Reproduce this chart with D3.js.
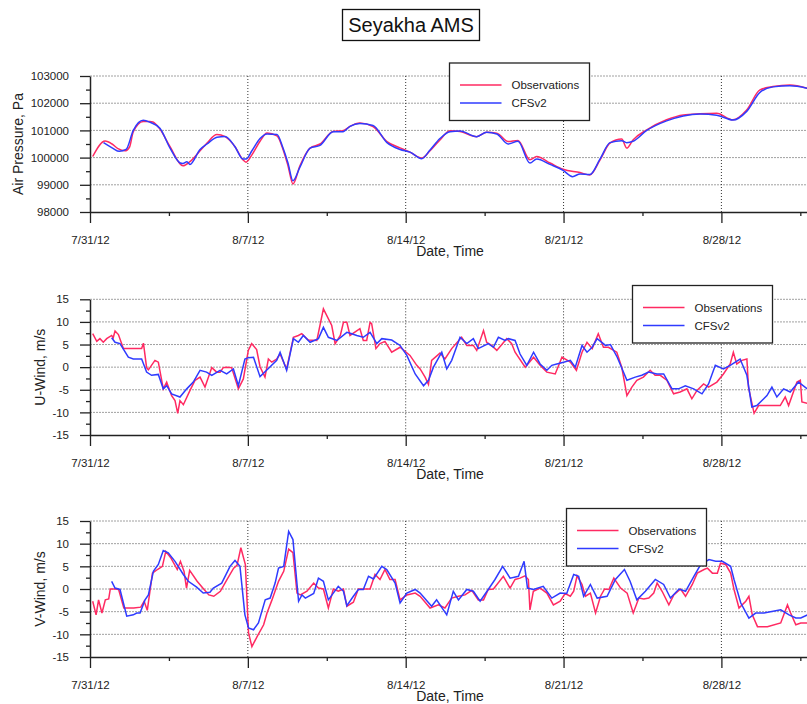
<!DOCTYPE html>
<html>
<head>
<meta charset="utf-8">
<script src="https://cdn.jsdelivr.net/npm/d3@7"></script>
<style>
  body { margin: 0; background: #fff; }
  svg { font-family: Arial, "Liberation Sans", sans-serif; }
</style>
</head>
<body>
<svg id="chart" width="807" height="704"></svg>
<script>
// values, as [day since 7/31/12, value]
var pressureObs = [[0.12,100040],[0.67,100610],[0.98,100500],[1.24,100330],[1.55,100250],[1.75,100380],[1.92,100950],[2.36,101330],[2.66,101330],[2.79,101310],[3.1,101050],[3.55,100400],[4.12,99700],[4.43,99850],[4.88,100250],[5.19,100540],[5.63,100850],[5.99,100770],[6.43,100400],[6.78,99920],[6.92,99830],[7.18,100100],[7.54,100600],[7.85,100900],[8.29,100800],[8.56,100300],[8.78,99700],[9.0,99030],[9.31,99700],[9.76,100350],[10.2,100500],[10.78,100960],[11.22,100990],[11.53,101150],[11.97,101270],[12.55,101140],[13.17,100590],[13.75,100360],[14.19,100200],[14.71,99980],[15.08,100250],[15.52,100650],[15.96,100990],[16.41,100960],[17.15,100770],[17.59,100930],[18.04,100900],[18.54,100590],[18.98,100630],[19.51,99920],[19.81,100040],[20.4,99800],[20.98,99570],[21.73,99450],[22.17,99360],[22.62,99920],[23.06,100530],[23.58,100680],[23.8,100350],[24.08,100650],[24.69,101020],[25.57,101390],[26.31,101570],[27.05,101610],[27.79,101630],[28.51,101390],[29.12,101750],[29.71,102490],[30.29,102610],[31.04,102670],[31.8,102550]];
var pressureCfs = [[0.6,100550],[1.0,100350],[1.3,100230],[1.6,100300],[1.92,101000],[2.36,101370],[2.66,101300],[3.1,101080],[3.55,100350],[4.0,99800],[4.12,99780],[4.3,99850],[4.43,99750],[4.88,100300],[5.19,100500],[5.63,100750],[5.99,100780],[6.43,100400],[6.78,99950],[6.92,99950],[7.18,100250],[7.54,100700],[7.85,100870],[8.29,100850],[8.56,100350],[8.78,99800],[9.0,99150],[9.31,99650],[9.76,100350],[10.2,100450],[10.78,100950],[11.22,100950],[11.53,101150],[11.97,101250],[12.55,101180],[13.17,100550],[13.75,100300],[14.19,100200],[14.71,99960],[15.08,100280],[15.52,100700],[15.96,100950],[16.41,100980],[17.15,100770],[17.59,100930],[18.04,100870],[18.54,100500],[18.98,100600],[19.51,99800],[19.81,99950],[20.4,99750],[20.98,99530],[21.4,99300],[21.73,99400],[22.17,99380],[22.62,99950],[23.06,100550],[23.58,100620],[23.8,100550],[24.08,100600],[24.69,101000],[25.57,101350],[26.31,101530],[27.05,101600],[27.79,101560],[28.51,101380],[29.12,101700],[29.71,102400],[30.29,102600],[31.04,102640],[31.8,102550]];

var uWindObs = [[0.12,7.4],[0.3,5.7],[0.44,6.3],[0.59,5.5],[0.74,6.3],[0.96,7.0],[1.03,6.5],[1.11,8.0],[1.26,7.2],[1.48,4.1],[1.92,4.1],[2.29,4.1],[2.37,5.3],[2.51,-0.1],[2.59,-0.6],[2.88,1.5],[3.03,1.1],[3.25,-4.8],[3.4,-3.3],[3.47,-4.3],[3.62,-6.3],[3.77,-7.4],[3.89,-10.2],[3.99,-7.4],[4.14,-8.3],[4.43,-5.2],[4.66,-2.9],[4.88,-2.2],[5.1,-4.4],[5.4,-0.1],[5.62,-1.1],[5.77,-1.1],[5.91,-0.1],[6.06,0.0],[6.28,-0.1],[6.58,-4.8],[6.8,-2.6],[7.02,3.7],[7.17,5.2],[7.39,3.9],[7.54,0.1],[7.76,-2.2],[7.91,1.8],[8.06,1.1],[8.28,1.8],[8.43,2.9],[8.72,-0.4],[9.02,6.6],[9.24,7.0],[9.39,7.4],[9.68,6.0],[10.06,5.9],[10.35,12.9],[10.72,9.2],[10.87,5.2],[11.1,7.0],[11.24,9.9],[11.39,9.9],[11.53,7.0],[11.97,8.5],[12.12,5.9],[12.27,5.9],[12.42,9.9],[12.49,9.6],[12.68,4.1],[12.86,5.2],[13.08,5.7],[13.38,3.3],[13.75,4.4],[14.19,2.6],[14.49,0.4],[14.64,-0.4],[14.86,-2.2],[15.01,-3.8],[15.15,1.5],[15.52,3.1],[15.74,1.8],[16.04,4.1],[16.48,6.6],[16.71,4.8],[17.0,4.8],[17.15,3.7],[17.45,8.1],[17.59,5.5],[17.81,4.8],[18.04,3.7],[18.48,6.3],[18.7,5.2],[18.85,3.3],[19.3,0.0],[19.67,2.2],[19.96,0.4],[20.26,-1.1],[20.63,-1.5],[20.93,2.2],[21.3,1.1],[21.57,-0.7],[21.82,3.3],[22.04,5.5],[22.27,4.1],[22.54,7.4],[22.77,4.4],[22.99,4.4],[23.36,3.3],[23.58,0.0],[23.81,-6.3],[24.03,-4.4],[24.25,-2.9],[24.54,-2.2],[24.84,-0.7],[25.06,-1.8],[25.29,-1.8],[25.58,-2.9],[25.88,-5.9],[26.17,-5.5],[26.47,-4.8],[26.69,-7.0],[26.91,-5.2],[27.21,-3.7],[27.43,-4.4],[27.8,-3.3],[28.09,-1.5],[28.39,0.7],[28.53,3.3],[28.68,0.7],[28.91,1.5],[29.13,1.8],[29.2,-4.4],[29.45,-10.2],[29.65,-8.5],[30.02,-8.5],[30.61,-8.5],[30.83,-6.6],[30.98,-8.5],[31.35,-3.3],[31.5,-2.9],[31.57,-7.7],[31.81,-8.0]];
var uWindCfs = [[0.96,6.5],[1.11,5.5],[1.33,5.2],[1.7,2.2],[1.92,1.8],[2.29,1.8],[2.51,-1.1],[2.73,-1.8],[3.03,-1.6],[3.25,-4.8],[3.4,-4.1],[3.62,-5.9],[3.99,-6.6],[4.29,-4.8],[4.58,-3.3],[4.88,-0.7],[5.17,-1.1],[5.4,-1.8],[5.77,-0.7],[6.06,-1.5],[6.36,-0.4],[6.58,-4.1],[6.87,1.8],[7.02,2.1],[7.25,2.2],[7.54,-2.1],[7.83,-0.7],[8.28,1.5],[8.43,3.3],[8.72,-0.7],[9.02,6.3],[9.24,5.5],[9.46,7.0],[9.76,5.5],[10.13,6.3],[10.35,8.8],[10.57,6.6],[10.95,5.9],[11.39,7.7],[11.61,7.4],[11.83,7.0],[12.12,6.6],[12.42,7.7],[12.72,5.2],[12.94,6.3],[13.38,6.0],[13.75,4.8],[14.05,2.6],[14.42,-1.5],[14.79,-4.1],[15.01,-2.9],[15.23,0.0],[15.6,3.3],[15.82,-0.4],[16.04,1.5],[16.41,6.6],[16.71,5.2],[17.0,6.3],[17.22,4.1],[17.66,5.2],[17.89,4.4],[18.11,6.6],[18.41,5.9],[18.55,6.3],[18.85,5.9],[19.07,2.9],[19.37,0.4],[19.67,3.3],[19.96,0.7],[20.26,-0.7],[20.48,0.4],[20.7,0.7],[21.0,1.1],[21.3,1.5],[21.52,0.0],[21.82,4.8],[22.04,3.3],[22.27,4.4],[22.49,6.3],[22.86,4.8],[23.08,5.0],[23.38,2.2],[23.81,-2.9],[24.18,-2.2],[24.47,-1.8],[24.77,-1.1],[25.14,-1.5],[25.44,-1.5],[25.81,-4.8],[26.1,-4.8],[26.4,-4.1],[26.77,-4.8],[27.14,-5.9],[27.43,-3.7],[27.73,0.4],[28.09,-0.4],[28.39,0.4],[28.83,1.8],[29.13,-1.8],[29.35,-8.8],[29.57,-8.5],[30.02,-6.3],[30.24,-4.4],[30.46,-6.6],[30.76,-4.8],[31.05,-5.5],[31.42,-3.3],[31.81,-4.8]];

var vWindObs = [[0.12,-2.7],[0.27,-5.7],[0.38,-2.4],[0.53,-5.3],[0.68,-2.4],[0.83,-2.2],[0.9,0.0],[1.13,0.0],[1.27,-0.1],[1.5,-4.2],[1.94,-4.2],[2.25,-4.0],[2.4,-2.7],[2.54,-4.7],[2.77,3.5],[2.99,4.3],[3.21,5.0],[3.36,8.3],[3.58,6.9],[3.87,4.3],[4.01,6.1],[4.17,3.9],[4.28,0.2],[4.42,4.1],[4.75,1.7],[5.04,0.0],[5.27,-1.3],[5.49,-1.6],[5.78,-0.5],[6.08,2.1],[6.37,4.6],[6.52,5.2],[6.69,9.1],[6.89,5.4],[7.03,-9.7],[7.18,-12.7],[7.41,-10.5],[7.7,-7.9],[7.85,-5.3],[8.07,-2.4],[8.36,1.7],[8.59,3.9],[8.81,8.8],[9.0,8.0],[9.18,-0.9],[9.33,-1.3],[9.62,-0.5],[9.92,1.3],[10.13,0.2],[10.35,0.0],[10.57,-4.2],[10.79,0.0],[11.01,-0.5],[11.24,0.0],[11.39,-3.8],[11.68,-2.9],[11.9,0.0],[12.42,0.0],[12.64,3.2],[12.86,2.1],[13.08,4.3],[13.3,2.1],[13.53,2.1],[13.75,-2.4],[14.05,-1.3],[14.42,-0.9],[14.64,-1.6],[15.08,-4.2],[15.45,-3.5],[15.74,-4.2],[16.04,-2.0],[16.34,-1.6],[16.63,-1.3],[16.93,-0.3],[17.22,-2.4],[17.45,-2.4],[17.66,-0.1],[17.89,0.0],[18.33,2.8],[18.63,0.2],[18.85,2.1],[19.07,2.4],[19.29,2.9],[19.44,2.1],[19.51,-4.6],[19.66,-0.5],[19.96,0.2],[20.26,-0.9],[20.55,-3.5],[20.85,-2.7],[21.07,-1.0],[21.3,-1.6],[21.45,-0.5],[21.6,2.9],[21.82,1.0],[21.97,-1.6],[22.19,-0.9],[22.42,-5.3],[22.64,-1.6],[22.82,0.0],[23.01,-0.1],[23.23,2.4],[23.53,0.2],[23.82,-0.9],[24.09,-5.3],[24.34,-2.0],[24.56,-2.2],[24.78,-2.0],[25.0,-0.9],[25.15,1.3],[25.37,-0.5],[25.67,-3.5],[25.89,-1.3],[26.19,0.0],[26.41,-1.6],[26.71,1.0],[26.93,3.5],[27.23,4.3],[27.38,4.6],[27.6,3.5],[27.82,3.5],[27.96,5.7],[28.19,5.4],[28.41,3.5],[28.56,-0.1],[28.78,-4.2],[29.08,-2.7],[29.22,-1.6],[29.37,-5.7],[29.6,-8.3],[30.04,-8.3],[30.63,-7.5],[30.93,-3.5],[31.07,-5.3],[31.3,-7.9],[31.52,-7.5],[31.83,-7.5]];
var vWindCfs = [[0.96,1.7],[1.11,0.2],[1.33,-0.1],[1.63,-6.0],[1.92,-5.7],[2.07,-5.3],[2.22,-5.3],[2.44,-2.4],[2.59,-1.3],[2.81,3.9],[3.03,5.4],[3.25,8.5],[3.47,8.0],[3.77,6.1],[4.14,3.2],[4.36,1.7],[4.73,0.4],[5.02,-0.9],[5.32,-0.7],[5.47,0.2],[5.84,1.3],[6.21,5.0],[6.43,6.3],[6.65,5.0],[6.87,-5.7],[7.03,-8.6],[7.25,-9.0],[7.47,-7.5],[7.77,-2.4],[7.99,-2.0],[8.21,1.3],[8.36,4.6],[8.59,5.0],[8.81,12.7],[9.0,10.9],[9.25,-2.7],[9.4,-1.3],[9.55,-2.0],[9.92,-1.0],[10.13,2.4],[10.35,1.7],[10.57,-2.4],[10.79,-0.9],[11.01,0.6],[11.24,-0.5],[11.39,-3.7],[11.68,-1.6],[11.9,-0.1],[12.12,-0.1],[12.35,2.8],[12.57,2.2],[12.94,5.0],[13.16,4.3],[13.53,1.3],[13.75,-3.1],[14.05,-0.9],[14.42,-0.1],[14.64,-0.9],[15.15,-3.8],[15.37,-2.4],[15.82,-5.7],[16.11,-0.5],[16.34,-2.4],[16.71,-0.1],[17.0,-0.5],[17.3,-2.7],[17.66,-0.1],[17.96,2.1],[18.3,5.0],[18.63,2.4],[19.0,2.8],[19.25,6.1],[19.4,0.2],[19.66,-0.1],[20.1,0.6],[20.48,-2.0],[20.85,-0.9],[21.14,-1.0],[21.45,3.2],[21.67,2.8],[21.89,-1.6],[22.19,1.0],[22.49,-2.0],[22.93,-1.6],[23.3,2.1],[23.7,4.3],[23.95,1.7],[24.25,-2.4],[24.63,-0.5],[25.07,2.1],[25.44,1.0],[25.74,-2.0],[26.12,0.0],[26.41,-0.5],[26.78,2.8],[27.08,5.4],[27.45,6.5],[27.75,6.1],[28.04,6.1],[28.41,5.0],[28.56,2.1],[28.86,-3.1],[29.22,-6.4],[29.52,-5.3],[29.89,-5.3],[30.63,-4.6],[31.0,-5.7],[31.3,-6.4],[31.52,-6.4],[31.83,-5.7]];

var majorDays = [0, 7, 14, 21, 28];
var minorDays = [3.5, 10.5, 17.5, 24.5, 31.5];
var xTickLabels = ["7/31/12", "8/7/12", "8/14/12", "8/21/12", "8/28/12"];
var pressureTicks = [98000, 99000, 100000, 101000, 102000, 103000];
var windTicks = [-15, -10, -5, 0, 5, 10, 15];
var seriesNames = ["Observations", "CFSv2"];
var title = "Seyakha AMS";

var obsColor = "#ff2a62", cfsColor = "#2f3bff";
var left = 90, right = 807;
var DAY0 = Date.UTC(2012, 6, 31);
function toDate(d) { return new Date(DAY0 + d * 864e5); }

var svg = d3.select("#chart");

var x = d3.scaleUtc()
  .domain([toDate(0), toDate(32)])
  .range([left, left + 32 * 22.55]);

// title box
var tg = svg.append("g");
tg.append("rect").attr("x", 342.5).attr("y", 9.5).attr("width", 137).attr("height", 31)
  .attr("fill", "#fff").attr("stroke", "#111").attr("stroke-width", 1.3);
tg.append("text").attr("x", 411).attr("y", 32).attr("text-anchor", "middle")
  .attr("font-size", 20).attr("fill", "#111").text(title);

var panels = [
  {obs: pressureObs, cfs: pressureCfs, ticks: pressureTicks, minorStep: 500, curve: d3.curveMonotoneX,
   top: 76, bottom: 212, label: "Air Pressure, Pa", labelX: 18, legend: [449.5, 63]},
  {obs: uWindObs, cfs: uWindCfs, ticks: windTicks, minorStep: 2.5, curve: d3.curveLinear,
   top: 299.3, bottom: 435, label: "U-Wind, m/s", labelX: 40, legend: [632.5, 285.5]},
  {obs: vWindObs, cfs: vWindCfs, ticks: windTicks, minorStep: 2.5, curve: d3.curveLinear,
   top: 521, bottom: 657, label: "V-Wind, m/s", labelX: 40, legend: [566.5, 508.5]}
];

panels.forEach(function(p, idx) {
  var lo = p.ticks[0], hi = p.ticks[p.ticks.length - 1];
  var y = d3.scaleLinear().domain([lo, hi]).range([p.bottom, p.top]);
  var g = svg.append("g");

  // horizontal grid
  g.selectAll(".hgrid").data(p.ticks.slice(1)).enter().append("line")
    .attr("x1", left).attr("x2", right)
    .attr("y1", d => y(d)).attr("y2", d => y(d))
    .attr("stroke", "#a0a0a0").attr("stroke-width", 1).attr("stroke-dasharray", "2,1");
  // vertical dotted grid
  g.selectAll(".vgrid").data(majorDays.slice(1)).enter().append("line")
    .attr("x1", d => x(toDate(d))).attr("x2", d => x(toDate(d)))
    .attr("y1", p.top).attr("y2", p.bottom)
    .attr("stroke", "#333").attr("stroke-width", 1).attr("stroke-dasharray", "1,2");

  // data lines
  var clipId = "clip" + idx;
  svg.append("clipPath").attr("id", clipId).append("rect")
    .attr("x", left).attr("y", p.top - 5).attr("width", right - left).attr("height", p.bottom - p.top + 5);
  var line = d3.line().curve(p.curve).x(d => x(toDate(d[0]))).y(d => y(d[1]));
  g.append("path").datum(p.obs).attr("clip-path", "url(#" + clipId + ")")
    .attr("d", line).attr("fill", "none").attr("stroke", obsColor).attr("stroke-width", 1.5);
  g.append("path").datum(p.cfs).attr("clip-path", "url(#" + clipId + ")")
    .attr("d", line).attr("fill", "none").attr("stroke", cfsColor).attr("stroke-width", 1.5);

  // x axis (major + minor)
  var xa = g.append("g").attr("transform", "translate(0," + p.bottom + ")")
    .call(d3.axisBottom(x).tickValues(majorDays.map(toDate))
      .tickFormat((d, i) => xTickLabels[i]).tickSize(11).tickSizeOuter(0).tickPadding(12.5));
  var xm = g.append("g").attr("transform", "translate(0," + p.bottom + ")")
    .call(d3.axisBottom(x).tickValues(minorDays.map(toDate)).tickFormat("").tickSize(4));
  xm.select(".domain").remove();

  // y axis (major + minor)
  var minor = d3.range(lo + p.minorStep, hi, p.minorStep * 2);
  var ya = g.append("g").attr("transform", "translate(" + left + ",0)")
    .call(d3.axisLeft(y).tickValues(p.ticks).tickFormat(d => String(d))
      .tickSize(10).tickSizeOuter(0).tickPadding(11));
  var ym = g.append("g").attr("transform", "translate(" + left + ",0)")
    .call(d3.axisLeft(y).tickValues(minor).tickFormat("").tickSize(4));
  ym.select(".domain").remove();

  [xa, xm, ya, ym].forEach(function(a) {
    a.selectAll("line").attr("stroke", "#222").attr("stroke-width", 1.3);
    a.select(".domain").attr("stroke", "#222").attr("stroke-width", 1.5);
    a.selectAll("text").attr("font-size", 11.5).attr("fill", "#222")
      .attr("font-family", "Arial, 'Liberation Sans', sans-serif");
  });

  // axis titles
  g.append("text").attr("x", 450).attr("y", p.bottom + 44).attr("text-anchor", "middle")
    .attr("font-size", 14).attr("fill", "#222").text("Date, Time");
  g.append("text").attr("transform", "translate(" + p.labelX + "," + ((p.top + p.bottom) / 2) + ") rotate(-90)")
    .attr("text-anchor", "middle").attr("dy", "0.35em")
    .attr("font-size", 14).attr("fill", "#222").text(p.label);

  // legend
  var lg = g.append("g").attr("transform", "translate(" + p.legend[0] + "," + p.legend[1] + ")");
  lg.append("rect").attr("width", 140).attr("height", 57.5)
    .attr("fill", "#fff").attr("stroke", "#222").attr("stroke-width", 1.3);
  [obsColor, cfsColor].forEach(function(c, i) {
    lg.append("line").attr("x1", 10.5).attr("x2", 52).attr("y1", 22 + i * 18).attr("y2", 22 + i * 18)
      .attr("stroke", c).attr("stroke-width", 1.5);
    lg.append("text").attr("x", 62).attr("y", 26 + i * 18).attr("font-size", 11.5).attr("fill", "#222")
      .text(seriesNames[i]);
  });
});
</script>
</body>
</html>
